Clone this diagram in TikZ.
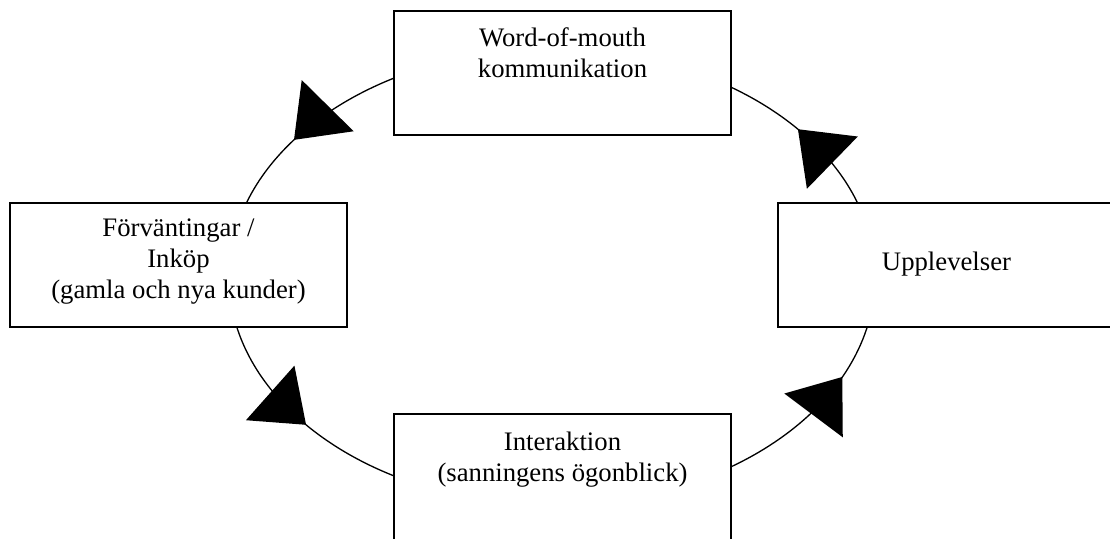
\documentclass[tikz,border=0pt]{standalone}
\usepackage{fontspec}
\setmainfont{Liberation Serif}
\usetikzlibrary{positioning,shapes.geometric}

\begin{document}
\begin{tikzpicture}[
    box/.style={draw,thick,fill=white,minimum width=6.74cm,minimum height=2.48cm,inner sep=0pt},
    lbl/.style={align=center,inner sep=0pt,font=\fontsize{15.2}{17.6}\selectfont},
    headtri/.pic={\fill (0,0) -- (-0.96,0.73) -- (-0.96,-0.73) -- cycle;}
  ]
            \useasboundingbox (0,0) rectangle (22.2,-10.76);
            % the cycle behind the boxes
            \node[ellipse,draw,line width=0.75pt,minimum width=12.92cm,minimum height=9.12cm,inner sep=0pt,outer sep=0pt] (cyc) at (11.04,-5.54) {};
            \node[box] (wom) at (11.25,-1.46) {};
            \node[box] (exp) at (3.57,-5.30) {};
            \node[box] (upp) at (18.93,-5.30) {};
            \node[box,minimum height=2.56cm] (int) at (11.25,-9.56) {};
            \node[lbl,below=0.34cm of wom.north] (womtxt) {Word-of-mouth\\kommunikation};
            \node[lbl,below=0.32cm of exp.north] (exptxt) {Förväntingar /\\Inköp\\(gamla och nya kunder)};
            \node[lbl,below=0.98cm of upp.north] (upptxt) {Upplevelser};
            \node[lbl,below=0.36cm of int.north] (inttxt) {Interaktion\\(sanningens ögonblick)};
            % arrowheads
            \pic[rotate=225.4] at (cyc.152) {headtri};
            \pic[rotate=135.8] at (cyc.31) {headtri};
            \pic[rotate=-41.6] at (cyc.211) {headtri};
            \pic[rotate=53.2] at (cyc.341) {headtri};
        \end{tikzpicture}
\end{document}
